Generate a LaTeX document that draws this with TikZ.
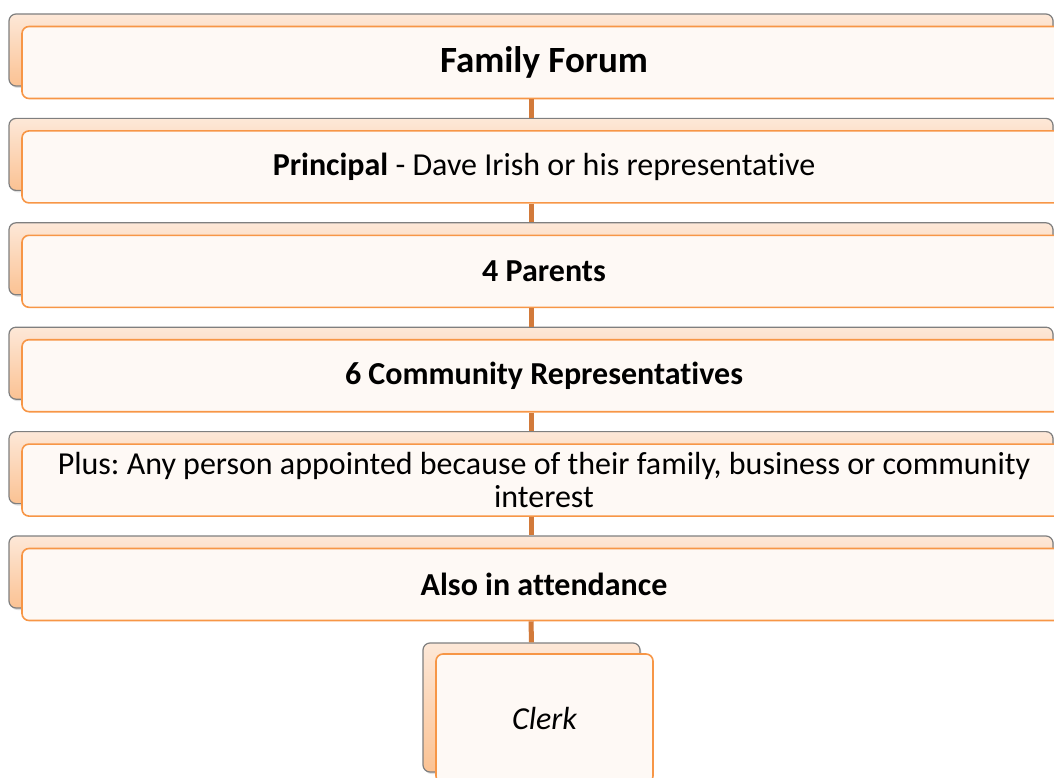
\documentclass[tikz,border=0pt]{standalone}
\usepackage{fontspec}
\setmainfont[Ligatures=NoCommon]{Carlito}
\usepackage{tikz}
\usetikzlibrary{positioning,shadows}
\definecolor{accent}{HTML}{F79646}
\definecolor{accentdark}{HTML}{D27A3A}
\definecolor{backtop}{HTML}{FDE8D8}
\definecolor{backbot}{HTML}{FBC293}
\definecolor{frontfill}{HTML}{FEF9F5}
\definecolor{framegray}{HTML}{7F7F7F}
\frenchspacing

\begin{document}
\begin{tikzpicture}[x=1pt,y=1pt,
		backbox/.style={draw=framegray,line width=1.2pt,rounded corners=7pt,
			top color=backtop,bottom color=backbot,inner sep=0pt,
			drop shadow={shadow xshift=1.5pt,shadow yshift=-2pt,opacity=0.25}},
		frontbox/.style={draw=accent,line width=1.6pt,rounded corners=7pt,
			fill=frontfill,inner sep=0pt,align=center,
			font=\fontsize{32}{33}\selectfont},
		wide/.style={minimum width=1044pt,minimum height=72pt},
		small/.style={minimum width=217pt,minimum height=129pt},
		link/.style={draw=accentdark,line width=5pt}]
		\useasboundingbox (0,0) rectangle (1054,-778);
		\clip (0,0) rectangle (1054,-778);
		\foreach \name/\txt [count=\i] in {
			forum/{\bfseries\fontsize{37}{40}\selectfont Family Forum},
			principal/{\textbf{Principal} - Dave Irish or his representative},
			parents/{\textbf{4 Parents}},
			community/{\textbf{6 Community Representatives}},
			plus/{Plus: Any person appointed because of their family, business or community\\interest},
			attendance/{\textbf{Also in attendance}}}
		{
			\node[backbox,wide] (b\name) at (531,{-50-104.4*(\i-1)}) {};
			\node[frontbox,wide] (\name) at (544,{-62.5-104.4*(\i-1)}) {\txt};
		}
		\node[backbox,small] (bclerk) at (531.5,-707.5) {};
		\node[frontbox,small] (clerk) at (544.5,-718.5) {\itshape Clerk};
		\foreach \a/\b in {forum/principal,principal/parents,parents/community,
			community/plus,plus/attendance,attendance/clerk}
		\draw[link] (b\a |- \a.south) -- (b\b.north);
\end{tikzpicture}
\end{document}
